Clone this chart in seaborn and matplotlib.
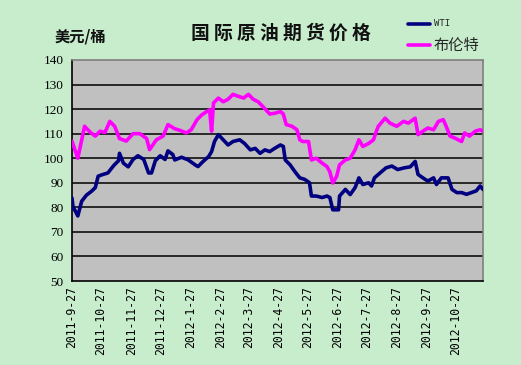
import matplotlib
matplotlib.use("Agg")
import matplotlib.pyplot as plt
import seaborn as sns
import pandas as pd
from matplotlib.lines import Line2D

wti_dates = ["2011-09-27","2011-09-28","2011-10-03","2011-10-07","2011-10-12","2011-10-17","2011-10-21",
             "2011-10-24","2011-10-29","2011-11-03","2011-11-09","2011-11-14","2011-11-15","2011-11-19",
             "2011-11-24","2011-11-29","2011-12-04","2011-12-10","2011-12-15","2011-12-18","2011-12-22",
             "2011-12-27","2012-01-01","2012-01-04","2012-01-09","2012-01-11","2012-01-18","2012-01-25",
             "2012-02-01","2012-02-04","2012-02-09","2012-02-15","2012-02-18","2012-02-21","2012-02-25",
             "2012-03-01","2012-03-06","2012-03-11","2012-03-18","2012-03-23","2012-03-29","2012-04-03",
             "2012-04-08","2012-04-13","2012-04-18","2012-04-23","2012-04-29","2012-05-02","2012-05-04",
             "2012-05-09","2012-05-14","2012-05-19","2012-05-24","2012-05-29","2012-05-31","2012-06-05",
             "2012-06-11","2012-06-16","2012-06-19","2012-06-22","2012-06-28","2012-06-29","2012-07-05",
             "2012-07-10","2012-07-15","2012-07-19","2012-07-23","2012-07-29","2012-08-01","2012-08-04",
             "2012-08-08","2012-08-16","2012-08-22","2012-08-28","2012-09-04","2012-09-10","2012-09-15",
             "2012-09-18","2012-09-23","2012-09-28","2012-10-04","2012-10-07","2012-10-12","2012-10-19",
             "2012-10-23","2012-10-28","2012-11-02","2012-11-07","2012-11-12","2012-11-17","2012-11-21",
             "2012-11-24"]
wti_values = [83.8,80.3,76.5,82.5,85.0,86.5,88.0,
              92.7,93.4,94.0,97.0,99.0,102.0,98.0,
              96.5,99.5,101.0,99.5,94.0,94.0,99.0,
              101.0,99.5,103.0,101.5,99.3,100.4,99.3,
              97.3,96.6,98.6,100.7,102.7,106.8,109.6,
              107.5,105.4,106.8,107.5,106.0,103.4,104.0,
              102.0,103.4,102.7,104.0,105.4,104.8,99.3,
              97.3,94.5,92.0,91.4,90.0,84.6,84.6,
              84.0,84.6,84.0,79.0,79.0,84.6,87.3,
              85.2,88.0,92.0,89.3,90.0,88.7,92.0,
              93.4,96.1,96.8,95.4,96.1,96.5,98.7,
              93.4,92.0,90.7,92.0,89.3,92.0,92.0,
              87.3,86.0,86.0,85.3,86.0,86.7,88.7,
              87.3]

brent_dates = ["2011-09-27","2011-10-03","2011-10-10","2011-10-16","2011-10-21","2011-10-26","2011-10-31",
               "2011-11-05","2011-11-10","2011-11-15","2011-11-22","2011-11-29","2011-12-06","2011-12-13",
               "2011-12-16","2011-12-23","2011-12-30","2012-01-04","2012-01-11","2012-01-16","2012-01-23",
               "2012-01-28","2012-02-03","2012-02-08","2012-02-13","2012-02-16","2012-02-18","2012-02-20",
               "2012-02-25","2012-03-01","2012-03-06","2012-03-11","2012-03-16","2012-03-22","2012-03-27",
               "2012-04-01","2012-04-06","2012-04-11","2012-04-18","2012-04-23","2012-04-29","2012-05-02",
               "2012-05-05","2012-05-11","2012-05-16","2012-05-19","2012-05-22","2012-05-28","2012-05-31",
               "2012-06-05","2012-06-11","2012-06-16","2012-06-19","2012-06-22","2012-06-26","2012-06-29",
               "2012-07-05","2012-07-10","2012-07-15","2012-07-19","2012-07-23","2012-07-29","2012-08-03",
               "2012-08-06","2012-08-08","2012-08-15","2012-08-20","2012-08-27","2012-09-03","2012-09-08",
               "2012-09-15","2012-09-18","2012-09-23","2012-09-28","2012-10-04","2012-10-09","2012-10-14",
               "2012-10-17","2012-10-21","2012-10-26","2012-11-02","2012-11-05","2012-11-10","2012-11-16",
               "2012-11-21","2012-11-24"]
brent_values = [106.9,100.0,113.0,110.5,109.0,111.0,110.5,
                115.0,113.0,108.0,107.0,110.0,110.0,108.0,
                103.5,107.5,109.0,113.7,112.0,111.4,110.3,
                111.6,115.7,117.7,119.0,119.7,111.0,122.5,
                124.5,123.0,124.0,126.0,125.3,124.5,126.0,
                124.0,123.0,121.0,118.0,118.3,119.0,118.0,
                113.7,113.0,111.6,107.5,106.8,106.8,99.3,
                100.0,98.0,96.6,94.5,89.9,92.6,97.3,
                99.3,100.0,103.4,107.5,104.8,106.0,107.5,
                111.0,113.0,116.3,114.3,113.0,115.0,114.3,
                116.3,109.6,111.0,112.3,111.6,115.0,115.7,
                113.0,109.0,108.2,106.8,110.3,109.0,111.0,
                111.6,111.0]

tick_labels = ["2011-9-27","2011-10-27","2011-11-27","2011-12-27","2012-1-27","2012-2-27","2012-3-27",
               "2012-4-27","2012-5-27","2012-6-27","2012-7-27","2012-8-27","2012-9-27","2012-10-27"]
y_ticks = [50, 60, 70, 80, 90, 100, 110, 120, 130, 140]

sns.set_style("white")
plt.rcParams['font.family'] = ['Noto Sans CJK SC', 'DejaVu Sans']

bg = "#C7EDCC"
fig = plt.figure(figsize=(5.21, 3.65), dpi=100, facecolor=bg)
ax = fig.add_axes([72/521, 1-281/365, 411/521, 221/365])
ax.set_facecolor("#C0C0C0")

wti = pd.DataFrame({"date": pd.to_datetime(wti_dates), "price": wti_values})
brent = pd.DataFrame({"date": pd.to_datetime(brent_dates), "price": brent_values})

for y in y_ticks[1:-1]:
    ax.axhline(y, color="black", lw=1.1, zorder=1)

sns.lineplot(data=brent, x="date", y="price", ax=ax, color="#FF00FF", lw=2.6, zorder=3)
sns.lineplot(data=wti, x="date", y="price", ax=ax, color="#000080", lw=2.6, zorder=3)

ax.set_xlim(pd.Timestamp("2011-09-27"), pd.Timestamp("2012-11-24"))
ax.set_ylim(50, 140)
ax.set_yticks(y_ticks)
ax.set_yticklabels([str(v) for v in y_ticks], family="Liberation Serif", fontsize=9.5)
ticks = pd.to_datetime(tick_labels, format="%Y-%m-%d")
ax.set_xticks(ticks)
ax.set_xticklabels(tick_labels, rotation=90, family="DejaVu Sans Mono", fontsize=8.3, va="top", ha="center")
ax.tick_params(axis="x", direction="in", length=4, width=1, pad=4, colors="black")
ax.tick_params(axis="y", direction="out", length=3, width=1, pad=3, colors="black")
ax.set_xlabel("")
ax.set_ylabel("")
ax.grid(False)
for s in ["left", "bottom"]:
    ax.spines[s].set_color("black")
    ax.spines[s].set_linewidth(1.2)
for s in ["top", "right"]:
    ax.spines[s].set_color("#808080")
    ax.spines[s].set_linewidth(1.2)

fig.text(281/521, 1-33/365, "国 际 原 油 期 货 价 格", ha="center", va="center",
         fontsize=13.5, fontweight="bold", color="#111111")
fig.text(80/521, 1-36/365, "美元/桶", ha="center", va="center",
         fontsize=11, fontweight="bold", color="#111111")

# legend
fig.add_artist(Line2D([408/521, 430/521], [1-24/365, 1-24/365], color="#000080", lw=2.6))
fig.add_artist(Line2D([408/521, 430/521], [1-45/365, 1-45/365], color="#FF00FF", lw=2.6))
fig.text(434/521, 1-24/365, "WTI", ha="left", va="center", fontsize=6.5, family="DejaVu Sans Mono")
fig.text(434/521, 1-45/365, "布伦特", ha="left", va="center", fontsize=11)

fig.savefig("out.png", dpi=100, facecolor=bg)
